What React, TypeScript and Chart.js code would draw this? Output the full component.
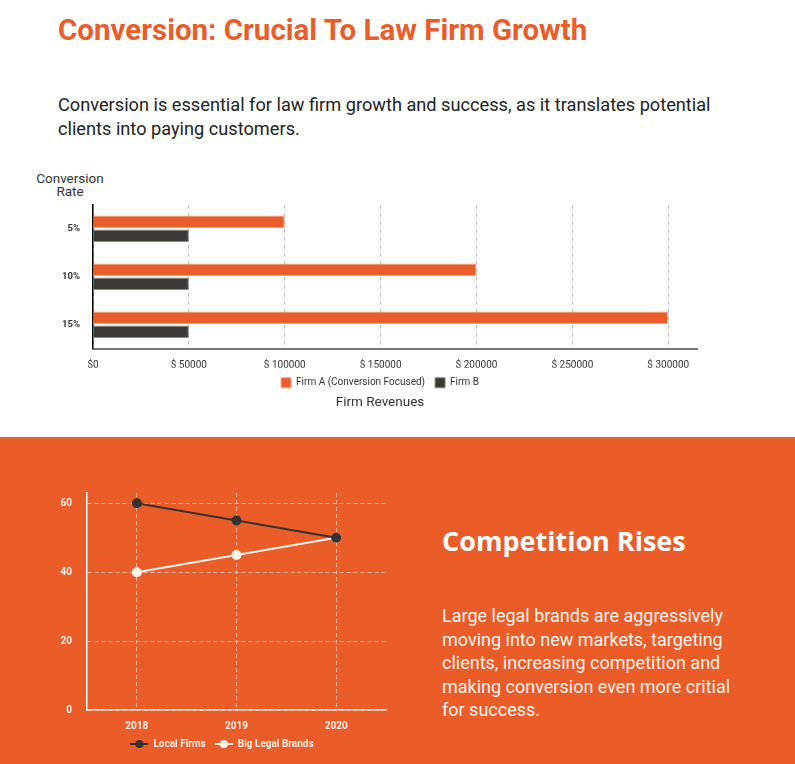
import React, { useEffect, useRef } from "react";
import { Chart, registerables } from "chart.js";

Chart.register(...registerables);

const ORANGE = "#EA5D29";
const DARK = "#3D3935";

// Bar chart data
const rateCategories = ["5%", "10%", "15%"];
const firmARevenue = [100000, 200000, 300000];
const firmBRevenue = [50000, 50000, 50000];
const revenueTicks = [0, 50000, 100000, 150000, 200000, 250000, 300000];

// Line chart data
const years = ["2018", "2019", "2020"];
const localFirms = [60, 55, 50];
const bigLegalBrands = [40, 45, 50];
const shareTicks = [0, 20, 40, 60];

function makeLegendIcon(lineColor: string, dotColor: string) {
  const c = document.createElement("canvas");
  c.width = 18;
  c.height = 10;
  const ctx = c.getContext("2d")!;
  ctx.strokeStyle = lineColor;
  ctx.lineWidth = 2;
  ctx.beginPath();
  ctx.moveTo(0, 5);
  ctx.lineTo(18, 5);
  ctx.stroke();
  ctx.fillStyle = dotColor;
  ctx.beginPath();
  ctx.arc(9, 5, 4, 0, Math.PI * 2);
  ctx.fill();
  return c;
}

function BarChart() {
  const ref = useRef<HTMLCanvasElement>(null);
  useEffect(() => {
    const chart = new Chart(ref.current!, {
      type: "bar",
      data: {
        labels: rateCategories,
        datasets: [
          {
            label: "Firm A (Conversion Focused)",
            data: firmARevenue,
            backgroundColor: ORANGE,
            borderColor: "#F5A27F",
            borderWidth: 1,
            barPercentage: 0.9,
            categoryPercentage: 0.58,
          },
          {
            label: "Firm B",
            data: firmBRevenue,
            backgroundColor: DARK,
            borderColor: "#8A8682",
            borderWidth: 1,
            barPercentage: 0.9,
            categoryPercentage: 0.58,
          },
        ],
      },
      options: {
        indexAxis: "y",
        animation: false,
        responsive: false,
        layout: { autoPadding: false, padding: { top: 7, right: 43, left: 43, bottom: 0 } },
        plugins: {
          legend: {
            position: "bottom",
            labels: {
              boxWidth: 10,
              boxHeight: 10,
              color: "#333",
              font: { family: "Roboto", size: 10 },
              padding: 10,
            },
          },
          title: {
            display: true,
            position: "bottom",
            text: "Firm Revenues",
            color: "#333",
            font: { family: "Roboto", size: 13.5, weight: "normal" },
            padding: { top: -3, bottom: 4 },
          },
          tooltip: { enabled: false },
        },
        scales: {
          x: {
            min: 0,
            max: 315000,
            afterBuildTicks: (s: any) => {
              s.ticks = revenueTicks.map((v) => ({ value: v }));
            },
            afterFit: (s: any) => {
              s.height = s.height - 15;
            },
            ticks: {
              autoSkip: false,
              maxRotation: 0,
              color: "#333",
              font: { family: "Roboto", size: 10 },
              padding: 11,
              callback: (v: any) => (v === 0 ? "$0" : "$ " + v),
            },
            grid: { color: "#BBBBBB", drawTicks: false, lineWidth: 1 },
            border: { color: "#777", width: 2, dash: [4, 4] },
          },
          y: {
            afterFit: (s: any) => {
              s.width = 30;
            },
            ticks: {
              color: "#333",
              font: { family: "Roboto", size: 9.5, weight: "bold" },
              padding: 13,
            },
            grid: { display: false, drawTicks: false },
            border: { color: "#000", width: 1.5 },
          },
        },
      },
    } as any);
    return () => chart.destroy();
  }, []);
  return (
    <canvas
      ref={ref}
      width={720}
      height={229}
      style={{ position: "absolute", left: 20, top: 186, width: 720, height: 229 }}
    />
  );
}

function LineChart() {
  const ref = useRef<HTMLCanvasElement>(null);
  useEffect(() => {
    const darkIcon = makeLegendIcon("#333", "#333");
    const whiteIcon = makeLegendIcon("#FFF3EC", "#FFF3EC");
    const chart = new Chart(ref.current!, {
      type: "line",
      data: {
        labels: years,
        datasets: [
          {
            label: "Local Firms",
            data: localFirms,
            borderColor: "#333333",
            backgroundColor: "#333333",
            borderWidth: 2,
            pointRadius: 5,
            pointBackgroundColor: "#333333",
            pointBorderWidth: 0,
          },
          {
            label: "Big Legal Brands",
            data: bigLegalBrands,
            borderColor: "#FFF3EC",
            backgroundColor: "#FFF3EC",
            borderWidth: 2,
            pointRadius: 5,
            pointBackgroundColor: "#FFF3EC",
            pointBorderWidth: 0,
          },
        ],
      },
      options: {
        animation: false,
        responsive: false,
        elements: { point: { pointStyle: "circle" } },
        layout: { autoPadding: false, padding: { top: 8, right: 38, left: 38, bottom: 0 } },
        plugins: {
          legend: {
            position: "bottom",
            labels: {
              usePointStyle: true,
              pointStyleWidth: 18,
              color: "#FFF3EC",
              font: { family: "Roboto", size: 10, weight: "bold" },
              padding: 9,
              generateLabels: (ch: any) =>
                ch.data.datasets.map((d: any, i: number) => ({
                  text: d.label,
                  fillStyle: d.backgroundColor,
                  strokeStyle: d.borderColor,
                  fontColor: "#FFF3EC",
                  lineWidth: 0,
                  pointStyle: i === 0 ? darkIcon : whiteIcon,
                  hidden: false,
                  datasetIndex: i,
                })),
            },
          },
          tooltip: { enabled: false },
        },
        scales: {
          x: {
            offset: true,
            afterFit: (s: any) => {
              s.height = s.height - 12;
            },
            ticks: {
              color: "#FFF3EC",
              font: { family: "Roboto", size: 10, weight: "bold" },
              padding: 10,
            },
            grid: { color: "rgba(255,255,255,0.55)", drawTicks: false },
            border: { color: "rgba(255,255,255,0.8)", width: 1.5, dash: [4, 3] },
          },
          y: {
            min: 0,
            max: 63,
            afterBuildTicks: (s: any) => {
              s.ticks = shareTicks.map((v) => ({ value: v }));
            },
            afterFit: (s: any) => {
              s.width = 29;
            },
            ticks: {
              color: "#FFF3EC",
              font: { family: "Roboto", size: 10, weight: "bold" },
              padding: 15,
            },
            grid: { color: "rgba(255,255,255,0.55)", drawTicks: false },
            border: { color: "#FFFFFF", width: 1.5, dash: [4, 3] },
          },
        },
      },
    } as any);
    return () => chart.destroy();
  }, []);
  return (
    <canvas
      ref={ref}
      width={404}
      height={287}
      style={{ position: "absolute", left: 20, top: 472, width: 404, height: 287 }}
    />
  );
}

export default function App() {
  return (
    <div
      style={{
        position: "absolute",
        left: 0,
        top: 0,
        width: 795,
        height: 764,
        overflow: "hidden",
        background: "#FFFFFF",
        fontFamily: "Roboto, sans-serif",
      }}
    >
      <div
        style={{
          position: "absolute",
          left: 58,
          top: 11,
          fontSize: 29.5,
          fontWeight: 700,
          color: ORANGE,
          whiteSpace: "nowrap",
          lineHeight: "38px",
        }}
      >
        Conversion: Crucial To Law Firm Growth
      </div>
      <div
        style={{
          position: "absolute",
          left: 58,
          top: 93,
          width: 680,
          fontSize: 18.2,
          color: "#222",
          lineHeight: "24px",
        }}
      >
        Conversion is essential for law firm growth and success, as it translates potential clients into paying customers.
      </div>
      <div
        style={{
          position: "absolute",
          left: 25,
          top: 172,
          width: 90,
          textAlign: "center",
          fontSize: 13.5,
          color: "#333",
          lineHeight: "13px",
        }}
      >
        Conversion
        <br />
        Rate
      </div>
      <BarChart />
      <div
        style={{
          position: "absolute",
          left: 0,
          top: 437,
          width: 795,
          height: 327,
          background: ORANGE,
        }}
      />
      <LineChart />
      <div
        style={{
          position: "absolute",
          left: 442,
          top: 523,
          fontSize: 27,
          fontWeight: 700,
          color: "#FFFFFF",
          whiteSpace: "nowrap",
          lineHeight: "36px",
          fontFamily: "'Open Sans', sans-serif",
        }}
      >
        Competition Rises
      </div>
      <div
        style={{
          position: "absolute",
          left: 442,
          top: 604,
          width: 300,
          fontSize: 18,
          color: "#FFF3EC",
          lineHeight: "23.5px",
        }}
      >
        Large legal brands are aggressively moving into new markets, targeting clients, increasing competition and making conversion even more critial for success.
      </div>
    </div>
  );
}
